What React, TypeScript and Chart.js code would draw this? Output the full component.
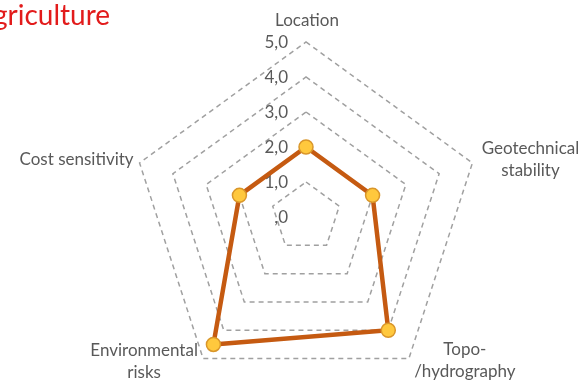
import React, { useEffect, useRef } from "react";
import { Chart, registerables } from "chart.js";

Chart.register(...registerables);

// ---- data ----
const categories: string[][] = [
  ["Location"],
  ["Geotechnical", "stability"],
  ["Topo-", "/hydrography"],
  ["Environmental", "risks"],
  ["Cost sensitivity"],
];
const seriesValues: number[] = [2.0, 2.0, 4.0, 4.5, 2.0];
const tickValues: number[] = [0, 1, 2, 3, 4, 5];
const tickLabels: string[] = [",0", "1,0", "2,0", "3,0", "4,0", "5,0"];
const titleText = "Agriculture";

// ---- layout / style ----
const CENTER_X = 306;
const CENTER_Y = 217;
const RADIUS = 175;
const LABEL_FONT = "17px Lato";
const LABEL_COLOR = "#595959";
const LABEL_LINE_H = 22;
const LABEL_OFFSETS: [number, number][] = [
  [1, -21],
  [58, -3],
  [56, 2],
  [-59, 3],
  [-63, -3],
];

const labelPlugin = {
  id: "xlLabels",
  beforeDatasetsDraw(chart: any) {
    const s = chart.scales.r;
    const ctx = chart.ctx;
    ctx.save();
    ctx.font = LABEL_FONT;
    ctx.fillStyle = LABEL_COLOR;
    ctx.textAlign = "right";
    ctx.textBaseline = "middle";
    tickValues.forEach((v, i) => {
      const d = s.getDistanceFromCenterForValue(v);
      ctx.fillText(tickLabels[i], s.xCenter - 18, s.yCenter - d + 1);
    });
    ctx.restore();
  },
  afterDraw(chart: any) {
    const s = chart.scales.r;
    const ctx = chart.ctx;
    ctx.save();
    ctx.font = LABEL_FONT;
    ctx.fillStyle = LABEL_COLOR;
    ctx.textAlign = "center";
    ctx.textBaseline = "middle";
    categories.forEach((lines, i) => {
      const p = s.getPointPosition(i, s.drawingArea);
      const [dx, dy] = LABEL_OFFSETS[i];
      const cx = p.x + dx;
      const cy = p.y + dy;
      lines.forEach((ln, j) => {
        ctx.fillText(ln, cx, cy + (j - (lines.length - 1) / 2) * LABEL_LINE_H);
      });
    });
    ctx.restore();
  },
};

export default function App() {
  const ref = useRef<HTMLCanvasElement | null>(null);
  useEffect(() => {
    if (!ref.current) return;
    const chart = new Chart(ref.current, {
      type: "radar",
      data: {
        labels: categories,
        datasets: [
          {
            data: seriesValues,
            borderColor: "#C55A11",
            borderWidth: 4.5,
            backgroundColor: "rgba(0,0,0,0)",
            fill: false,
            pointRadius: 7,
            pointHoverRadius: 7,
            pointBackgroundColor: "#FFC83D",
            pointBorderColor: "#D9962A",
            pointBorderWidth: 1.5,
          },
        ],
      },
      options: {
        responsive: false,
        animation: false,
        plugins: {
          legend: { display: false },
          tooltip: { enabled: false },
          title: { display: false },
        },
        scales: {
          r: {
            min: 0,
            max: 5,
            ticks: { display: false, stepSize: 1 },
            pointLabels: { display: false },
            angleLines: { display: false },
            grid: {
              circular: false,
              color: "#A0A0A0",
              lineWidth: 1.5,
              borderDash: [5, 4],
            } as any,
            border: { dash: [5, 4] } as any,
            afterFit: (scale: any) => {
              scale.xCenter = CENTER_X;
              scale.yCenter = CENTER_Y;
              scale.drawingArea = RADIUS;
            },
          },
        },
      },
      plugins: [labelPlugin],
    });
    return () => chart.destroy();
  }, []);

  return (
    <div
      style={{
        position: "fixed",
        left: 0,
        top: 0,
        width: 580,
        height: 384,
        overflow: "hidden",
        background: "#fff",
      }}
    >
      <canvas ref={ref} width={580} height={384} style={{ position: "absolute", left: 0, top: 0 }} />
      <div
        style={{
          position: "absolute",
          left: -26,
          top: -3,
          fontFamily: "Lato, sans-serif",
          fontSize: 28,
          color: "#E21B1B",
          whiteSpace: "nowrap",
          lineHeight: "34px",
        }}
      >
        {titleText}
      </div>
    </div>
  );
}
